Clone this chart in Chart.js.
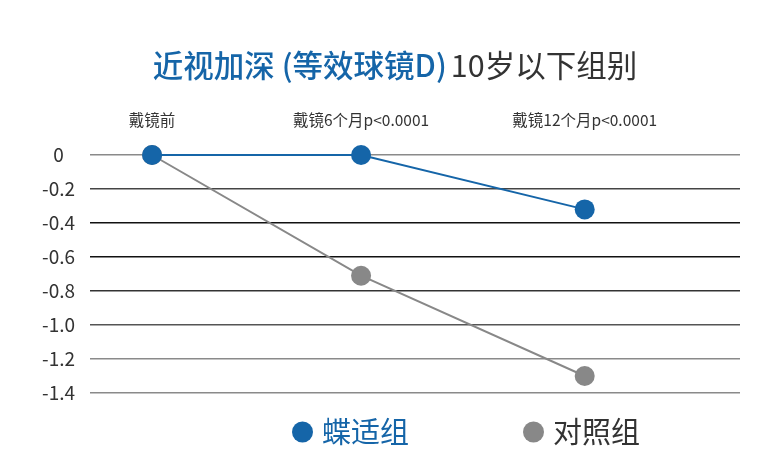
<!DOCTYPE html>
<html>
<head>
<meta charset="utf-8">
<script src="https://cdn.jsdelivr.net/npm/chart.js@4/dist/chart.umd.min.js"></script>
<style>
  html, body { margin: 0; padding: 0; background: #fff; }
  #wrap { width: 770px; height: 470px; }
</style>
</head>
<body>
<div id="wrap"><canvas id="chart"></canvas></div>
<script>
const stages = ["戴镜前", "戴镜6个月p<0.0001", "戴镜12个月p<0.0001"];
const stageX = [0, 1, 2.07];
const dieshi = [0, 0, -0.32];
const control = [0, -0.71, -1.30];
const yTicks = [0, -0.2, -0.4, -0.6, -0.8, -1.0, -1.2, -1.4];

const FONT = "'Noto Sans CJK SC', 'Noto Sans', sans-serif";
const BLUE = "#1565a8";
const GRAY = "#888888";

const gridColors = {
  "0": "#8a8a8a", "-0.2": "#444", "-0.4": "#111", "-0.6": "#111",
  "-0.8": "#333", "-1": "#555", "-1.2": "#8a8a8a", "-1.4": "#8a8a8a"
};

function points(vals) {
  return vals.map((v, i) => ({ x: stageX[i], y: v }));
}

// two-colour title + hand placed legend
const decorPlugin = {
  id: "decor",
  afterDraw(c) {
    const ctx = c.ctx;
    ctx.save();
    ctx.textBaseline = "middle";
    const a = "近视加深 (等效球镜D)";
    const b = "10岁以下组别";
    ctx.font = "500 30.5px " + FONT;
    const wa = ctx.measureText(a).width;
    ctx.font = "400 30.5px " + FONT;
    const wb = ctx.measureText(b).width;
    const x0 = 395 - (wa + 4 + wb) / 2;
    ctx.font = "500 30.5px " + FONT;
    ctx.fillStyle = BLUE;
    ctx.fillText(a, x0, 65);
    ctx.font = "400 30.5px " + FONT;
    ctx.fillStyle = "#333";
    ctx.fillText(b, x0 + wa + 4, 65);

    // legend
    ctx.font = "400 29px " + FONT;
    const items = c.data.datasets.map((d, i) => ({
      text: d.label, color: d.backgroundColor, textColor: i === 0 ? BLUE : "#333",
      w: 21 + 9 + ctx.measureText(d.label).width
    }));
    const gap = 114;
    const total = items.reduce((s, it) => s + it.w, 0) + gap * (items.length - 1);
    let x = 466 - total / 2;
    const y = 432;
    items.forEach(it => {
      ctx.fillStyle = it.color;
      ctx.beginPath();
      ctx.arc(x + 10.5, y, 10.5, 0, Math.PI * 2);
      ctx.fill();
      ctx.fillStyle = it.textColor;
      ctx.fillText(it.text, x + 30, y);
      x += it.w + gap;
    });
    ctx.restore();
  }
};

new Chart(document.getElementById("chart"), {
  type: "line",
  data: {
    datasets: [
      {
        label: "蝶适组",
        data: points(dieshi),
        borderColor: BLUE,
        backgroundColor: BLUE,
        borderWidth: 2,
        pointRadius: 10,
        pointHoverRadius: 10,
        pointBorderWidth: 0,
        clip: false,
        order: 1
      },
      {
        label: "对照组",
        data: points(control),
        borderColor: GRAY,
        backgroundColor: GRAY,
        borderWidth: 2,
        pointRadius: 10,
        pointHoverRadius: 10,
        pointBorderWidth: 0,
        clip: false,
        order: 2
      }
    ]
  },
  options: {
    responsive: true,
    maintainAspectRatio: false,
    animation: false,
    layout: { padding: { left: 0, right: 30, top: 100, bottom: 77 } },
    scales: {
      x: {
        type: "linear",
        min: -0.297,
        max: 2.813,
        display: false
      },
      x2: {
        type: "linear",
        position: "top",
        min: -0.297,
        max: 2.813,
        afterBuildTicks: s => { s.ticks = stageX.map(v => ({ value: v })); },
        afterFit: s => { s.height = 55; },
        grid: { display: false, drawTicks: false },
        border: { display: false },
        ticks: {
          callback: (v) => stages[stageX.indexOf(v)] || "",
          font: { family: FONT, size: 15.5 },
          color: "#333",
          padding: 26,
          maxRotation: 0,
          autoSkip: false
        }
      },
      y: {
        min: -1.4,
        max: 0,
        afterBuildTicks: s => { s.ticks = yTicks.map(v => ({ value: v })); },
        afterFit: s => { s.width = 90; },
        border: { display: false },
        grid: {
          drawTicks: false,
          lineWidth: 1.5,
          color: ctx => gridColors[String(ctx.tick ? ctx.tick.value : 0)] || "#555"
        },
        ticks: {
          callback: v => v === 0 ? "0" : v.toFixed(1),
          font: { family: FONT, size: 19 },
          color: "#333",
          padding: 15,
          crossAlign: "center",
          autoSkip: false
        }
      }
    },
    plugins: {
      title: { display: false },
      tooltip: { enabled: false },
      legend: { display: false }
    }
  },
  plugins: [decorPlugin]
});
</script>
</body>
</html>
